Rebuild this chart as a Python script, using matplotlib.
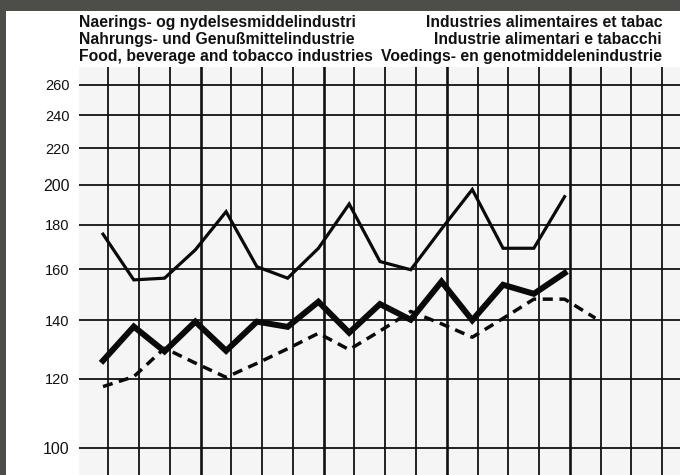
import numpy as np
import matplotlib
matplotlib.use('Agg')
import matplotlib.pyplot as plt
from matplotlib.patches import Rectangle

# quarterly index values (log scale)
upper = [175.5, 155.6, 156.3, 168.4, 186.2, 161.1, 156.3, 169.1,
         190.0, 163.3, 159.8, 177.9, 197.4, 169.1, 169.1, 193.7]
thick = [125.8, 137.6, 128.9, 139.4, 129.1, 139.4, 137.5, 146.9,
         135.4, 146.0, 140.1, 154.9, 139.9, 153.6, 150.0, 158.4]
dashed = [117.5, 120.6, 130.0, 125.0, 120.4, 124.9, 129.8, 135.2,
          129.5, 136.0, 143.2, 138.6, 133.8, 140.6, 147.9, 147.9, 140.7]

yticks = [100, 120, 140, 160, 180, 200, 220, 240, 260]
title_left = ['Naerings- og nydelsesmiddelindustri',
              'Nahrungs- und Genu\u00dfmittelindustrie',
              'Food, beverage and tobacco industries']
title_right = ['Industries alimentaires et tabac',
               'Industrie alimentari e tabacchi',
               'Voedings- en genotmiddelenindustrie']

n_grid = 19
grid_shift = 0.17

plt.rcParams['font.family'] = ['Liberation Sans', 'DejaVu Sans']

fig = plt.figure(figsize=(6.8, 4.75), dpi=100, facecolor='#4d4d4a')
# white page of the scan
fig.patches.append(Rectangle((6/680, 0), 1, (475-11)/475, transform=fig.transFigure,
                             facecolor='white', edgecolor='none', zorder=-10))

ax = fig.add_axes([79/680, 0, 1 - 79/680, (475-67)/475])
ax.set_zorder(2)
ax.set_facecolor('#f5f5f5')
for s in ax.spines.values():
    s.set_visible(False)

ax.set_yscale('log')
ax.set_ylim(93.1, 272.5)
ax.set_xlim(-0.78, 18.75)
ax.set_yticks(yticks)
ax.set_yticklabels([str(v) for v in yticks])
ax.yaxis.set_minor_locator(matplotlib.ticker.NullLocator())
ax.set_xticks(np.arange(n_grid) + grid_shift)
ax.set_xticklabels([])
ax.tick_params(length=0, pad=7)
for lab, v in zip(ax.get_yticklabels(), yticks):
    lab.set_fontsize(11.5 if v in (100, 200) else 10.5)
    lab.set_color('#111111')

ax.grid(True, color='#111111', linewidth=1.3)
for i, gl in enumerate(ax.get_xgridlines()):
    if i % 4 == 3:
        gl.set_linewidth(1.9)

x_up = np.arange(len(upper))
x_dash = np.arange(len(dashed))
ax.plot(x_up, upper, color='#0a0a0a', lw=2.3, solid_joinstyle='miter', zorder=3)
ax.plot(x_up, thick, color='#0a0a0a', lw=4.3, solid_joinstyle='miter', zorder=3)
ax.plot(x_dash, dashed, color='#0a0a0a', lw=2.5, linestyle=(0, (2.9, 1.9)), zorder=3)

for i, t in enumerate(title_left):
    fig.text(79/680, 1 - (27 + 17*i)/475, t, ha='left', va='baseline',
             fontsize=11.3, fontweight='bold', color='#111111')
for i, t in enumerate(title_right):
    fig.text(662/680, 1 - (27 + 17*i)/475, t, ha='right', va='baseline',
             fontsize=11.3, fontweight='bold', color='#111111')

fig.savefig('out.png', dpi=100, facecolor=fig.get_facecolor())
